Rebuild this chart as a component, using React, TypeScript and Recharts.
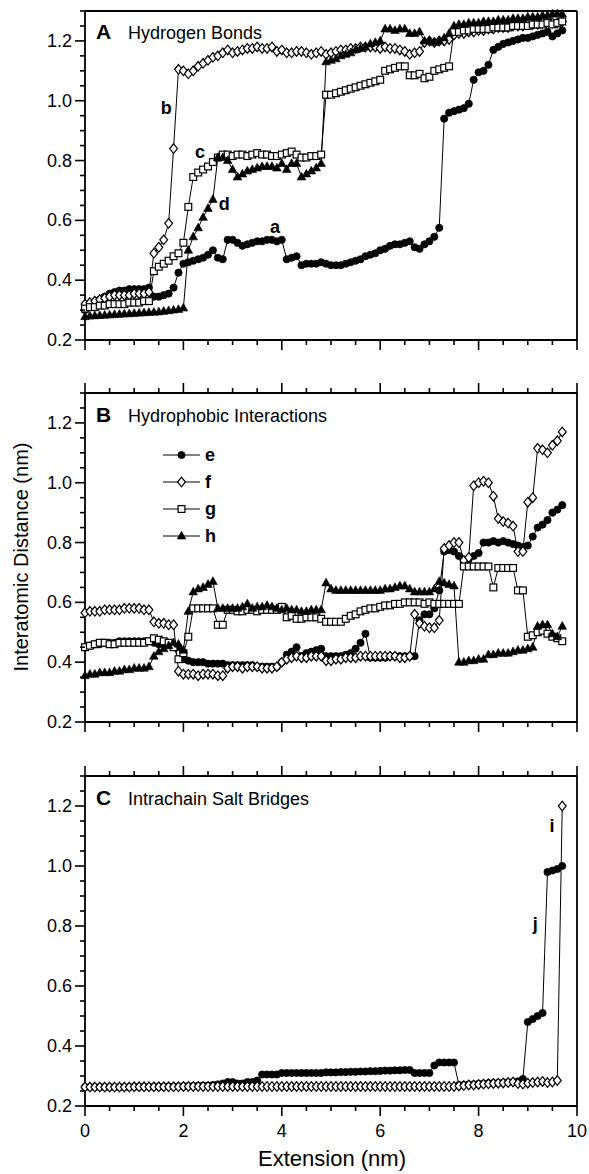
import React from 'react';
import { LineChart, Line, XAxis, YAxis, ReferenceDot, Legend } from 'recharts';

// extension (nm), one sample per 0.1 nm
const extension = [
  0, 0.1, 0.2, 0.3, 0.4, 0.5, 0.6, 0.7, 0.8, 0.9,
  1.0, 1.1, 1.2, 1.3, 1.4, 1.5, 1.6, 1.7, 1.8, 1.9,
  2.0, 2.1, 2.2, 2.3, 2.4, 2.5, 2.6, 2.7, 2.8, 2.9,
  3.0, 3.1, 3.2, 3.3, 3.4, 3.5, 3.6, 3.7, 3.8, 3.9,
  4.0, 4.1, 4.2, 4.3, 4.4, 4.5, 4.6, 4.7, 4.8, 4.9,
  5.0, 5.1, 5.2, 5.3, 5.4, 5.5, 5.6, 5.7, 5.8, 5.9,
  6.0, 6.1, 6.2, 6.3, 6.4, 6.5, 6.6, 6.7, 6.8, 6.9,
  7.0, 7.1, 7.2, 7.3, 7.4, 7.5, 7.6, 7.7, 7.8, 7.9,
  8.0, 8.1, 8.2, 8.3, 8.4, 8.5, 8.6, 8.7, 8.8, 8.9,
  9.0, 9.1, 9.2, 9.3, 9.4, 9.5, 9.6, 9.7,
];

// A - hydrogen bonds
const hbA = [
  0.30, 0.31, 0.32, 0.335, 0.345, 0.355, 0.36, 0.365, 0.365, 0.37,
  0.37, 0.37, 0.37, 0.375, 0.345, 0.345, 0.35, 0.355, 0.375, 0.425,
  0.455, 0.46, 0.465, 0.47, 0.475, 0.485, 0.50, 0.475, 0.47, 0.535,
  0.535, 0.525, 0.515, 0.52, 0.525, 0.53, 0.53, 0.535, 0.535, 0.53,
  0.535, 0.47, 0.475, 0.48, 0.45, 0.455, 0.455, 0.455, 0.46, 0.455,
  0.45, 0.45, 0.45, 0.455, 0.46, 0.465, 0.47, 0.48, 0.485, 0.49,
  0.50, 0.505, 0.515, 0.52, 0.52, 0.525, 0.53, 0.51, 0.505, 0.52,
  0.53, 0.545, 0.575, 0.94, 0.96, 0.965, 0.97, 0.975, 0.99, 1.07,
  1.095, 1.10, 1.12, 1.17, 1.18, 1.19, 1.195, 1.20, 1.205, 1.21,
  1.21, 1.215, 1.22, 1.225, 1.23, 1.215, 1.225, 1.235,
];
const hbB = [
  0.32, 0.325, 0.33, 0.335, 0.34, 0.345, 0.35, 0.35, 0.35, 0.35,
  0.355, 0.355, 0.355, 0.36, 0.49, 0.51, 0.535, 0.59, 0.84, 1.105,
  1.10, 1.09, 1.10, 1.115, 1.125, 1.135, 1.145, 1.15, 1.16, 1.17,
  1.16, 1.165, 1.17, 1.175, 1.175, 1.18, 1.175, 1.175, 1.18, 1.165,
  1.17, 1.16, 1.16, 1.165, 1.165, 1.16, 1.155, 1.16, 1.165, 1.155,
  1.16, 1.165, 1.17, 1.17, 1.175, 1.175, 1.18, 1.18, 1.18, 1.18,
  1.175, 1.18, 1.175, 1.175, 1.17, 1.165, 1.155, 1.16, 1.165, 1.195,
  1.20, 1.195, 1.20, 1.20, 1.205, 1.22, 1.225, 1.225, 1.23, 1.23,
  1.235, 1.235, 1.24, 1.24, 1.245, 1.245, 1.245, 1.25, 1.25, 1.25,
  1.255, 1.255, 1.255, 1.26, 1.255, 1.26, 1.26, 1.265,
];
const hbC = [
  0.305, 0.31, 0.31, 0.315, 0.315, 0.32, 0.32, 0.32, 0.32, 0.325,
  0.325, 0.325, 0.33, 0.33, 0.43, 0.445, 0.455, 0.465, 0.48, 0.49,
  0.525, 0.645, 0.745, 0.76, 0.77, 0.78, 0.795, 0.81, 0.82, 0.82,
  0.815, 0.82, 0.82, 0.815, 0.82, 0.825, 0.82, 0.82, 0.815, 0.815,
  0.82, 0.825, 0.83, 0.82, 0.81, 0.81, 0.815, 0.815, 0.82, 1.02,
  1.02, 1.025, 1.03, 1.035, 1.04, 1.045, 1.05, 1.055, 1.06, 1.065,
  1.07, 1.10, 1.105, 1.11, 1.115, 1.115, 1.085, 1.085, 1.09, 1.075,
  1.08, 1.10, 1.105, 1.11, 1.115, 1.23, 1.23, 1.235, 1.235, 1.24,
  1.24, 1.24, 1.24, 1.245, 1.245, 1.245, 1.245, 1.25, 1.25, 1.25,
  1.25, 1.255, 1.255, 1.255, 1.26, 1.255, 1.26, 1.265,
];
const hbD = [
  0.278, 0.28, 0.281, 0.282, 0.283, 0.284, 0.285, 0.286, 0.287, 0.288,
  0.289, 0.29, 0.291, 0.292, 0.293, 0.294, 0.296, 0.298, 0.30, 0.302,
  0.307, 0.50, 0.545, 0.575, 0.61, 0.64, 0.67, 0.81, 0.81, 0.80,
  0.77, 0.745, 0.755, 0.765, 0.77, 0.775, 0.78, 0.78, 0.78, 0.775,
  0.79, 0.77, 0.79, 0.79, 0.745, 0.755, 0.765, 0.775, 0.79, 1.13,
  1.135, 1.14, 1.15, 1.155, 1.16, 1.17, 1.175, 1.18, 1.19, 1.195,
  1.20, 1.24, 1.24, 1.235, 1.24, 1.24, 1.225, 1.225, 1.23, 1.20,
  1.20, 1.195, 1.20, 1.21, 1.225, 1.25, 1.255, 1.255, 1.26, 1.26,
  1.26, 1.265, 1.265, 1.265, 1.27, 1.27, 1.27, 1.275, 1.275, 1.275,
  1.28, 1.28, 1.28, 1.285, 1.285, 1.29, 1.29, 1.29,
];

// B - hydrophobic interactions
const hpE = [
  0.45, 0.455, 0.46, 0.46, 0.465, 0.465, 0.465, 0.47, 0.47, 0.47,
  0.47, 0.47, 0.47, 0.47, 0.465, 0.46, 0.46, 0.465, 0.455, 0.45,
  0.41, 0.405, 0.40, 0.40, 0.40, 0.395, 0.395, 0.395, 0.395, 0.39,
  0.39, 0.39, 0.39, 0.39, 0.39, 0.385, 0.385, 0.385, 0.385, 0.385,
  0.40, 0.425, 0.435, 0.45, 0.42, 0.43, 0.435, 0.44, 0.445, 0.42,
  0.42, 0.42, 0.42, 0.425, 0.43, 0.445, 0.465, 0.495, 0.415, 0.415,
  0.415, 0.415, 0.42, 0.42, 0.42, 0.42, 0.42, 0.42, 0.54, 0.56,
  0.56, 0.58, 0.64, 0.77, 0.775, 0.77, 0.755, 0.735, 0.745, 0.755,
  0.765, 0.80, 0.80, 0.805, 0.80, 0.805, 0.80, 0.795, 0.79, 0.785,
  0.79, 0.82, 0.85, 0.86, 0.875, 0.90, 0.91, 0.925,
];
const hpF = [
  0.565, 0.57, 0.57, 0.57, 0.575, 0.575, 0.575, 0.575, 0.58, 0.58,
  0.58, 0.58, 0.575, 0.575, 0.535, 0.53, 0.53, 0.525, 0.525, 0.37,
  0.36, 0.36, 0.36, 0.355, 0.36, 0.36, 0.36, 0.355, 0.355, 0.38,
  0.385, 0.385, 0.38, 0.385, 0.385, 0.385, 0.38, 0.38, 0.38, 0.385,
  0.40, 0.41, 0.415, 0.42, 0.415, 0.415, 0.42, 0.42, 0.42, 0.405,
  0.405, 0.41, 0.41, 0.415, 0.415, 0.415, 0.42, 0.42, 0.42, 0.42,
  0.42, 0.42, 0.42, 0.42, 0.415, 0.415, 0.42, 0.56, 0.53, 0.52,
  0.515, 0.515, 0.54, 0.78, 0.79, 0.80, 0.80, 0.74, 0.75, 0.99,
  1.0, 1.005, 1.0, 0.955, 0.88, 0.87, 0.865, 0.855, 0.77, 0.77,
  0.935, 0.95, 1.115, 1.11, 1.10, 1.125, 1.14, 1.17,
];
const hpG = [
  0.45, 0.455, 0.46, 0.465, 0.465, 0.46, 0.46, 0.465, 0.465, 0.465,
  0.465, 0.465, 0.465, 0.47, 0.48, 0.475, 0.47, 0.465, 0.45, 0.41,
  0.43, 0.485, 0.58, 0.58, 0.58, 0.58, 0.58, 0.525, 0.525, 0.575,
  0.575, 0.57, 0.57, 0.575, 0.575, 0.57, 0.575, 0.575, 0.575, 0.575,
  0.585, 0.55, 0.555, 0.545, 0.545, 0.55, 0.55, 0.55, 0.545, 0.535,
  0.535, 0.535, 0.535, 0.545, 0.555, 0.56, 0.57, 0.575, 0.58, 0.58,
  0.585, 0.59, 0.59, 0.595, 0.595, 0.60, 0.60, 0.60, 0.60, 0.595,
  0.60, 0.595, 0.595, 0.595, 0.595, 0.595, 0.595, 0.72, 0.72, 0.72,
  0.72, 0.72, 0.72, 0.65, 0.715, 0.715, 0.715, 0.715, 0.64, 0.64,
  0.485, 0.49, 0.50, 0.505, 0.495, 0.485, 0.48, 0.47,
];
const hpH = [
  0.355, 0.36, 0.36, 0.365, 0.365, 0.365, 0.37, 0.37, 0.375, 0.375,
  0.38, 0.38, 0.38, 0.385, 0.42, 0.435, 0.445, 0.455, 0.465, 0.46,
  0.44, 0.57, 0.635, 0.645, 0.65, 0.66, 0.67, 0.58, 0.58, 0.58,
  0.58, 0.58, 0.585, 0.595, 0.58, 0.585, 0.585, 0.59, 0.585, 0.58,
  0.575, 0.58, 0.575, 0.575, 0.57, 0.57, 0.575, 0.575, 0.575, 0.665,
  0.645, 0.64, 0.64, 0.64, 0.64, 0.64, 0.64, 0.64, 0.64, 0.64,
  0.64, 0.645, 0.645, 0.65, 0.655, 0.655, 0.645, 0.635, 0.635, 0.635,
  0.635, 0.645, 0.67, 0.665, 0.66, 0.655, 0.40, 0.40, 0.405, 0.405,
  0.41, 0.41, 0.425, 0.425, 0.43, 0.43, 0.43, 0.435, 0.44, 0.44,
  0.445, 0.45, 0.52, 0.525, 0.525, 0.495, 0.485, 0.52,
];

// C - intrachain salt bridges
const sbI = [
  0.263, 0.263, 0.263, 0.263, 0.263, 0.263, 0.263, 0.263, 0.263, 0.263,
  0.264, 0.264, 0.264, 0.264, 0.264, 0.264, 0.264, 0.264, 0.264, 0.264,
  0.265, 0.265, 0.265, 0.265, 0.265, 0.265, 0.265, 0.265, 0.265, 0.265,
  0.265, 0.265, 0.265, 0.265, 0.265, 0.265, 0.265, 0.265, 0.265, 0.265,
  0.265, 0.265, 0.265, 0.265, 0.265, 0.265, 0.265, 0.265, 0.265, 0.265,
  0.265, 0.265, 0.265, 0.265, 0.265, 0.265, 0.265, 0.265, 0.265, 0.265,
  0.265, 0.265, 0.265, 0.265, 0.265, 0.265, 0.265, 0.265, 0.265, 0.265,
  0.265, 0.265, 0.265, 0.265, 0.265, 0.265, 0.267, 0.268, 0.27, 0.27,
  0.272, 0.273, 0.274, 0.275, 0.276, 0.277, 0.278, 0.28, 0.275, 0.273,
  0.276, 0.278, 0.28, 0.282, 0.278, 0.28, 0.285, 1.2,
];
const sbJ = [
  0.263, 0.263, 0.263, 0.263, 0.263, 0.263, 0.263, 0.263, 0.263, 0.263,
  0.264, 0.264, 0.264, 0.264, 0.264, 0.264, 0.264, 0.265, 0.265, 0.265,
  0.266, 0.266, 0.267, 0.267, 0.268, 0.268, 0.27, 0.272, 0.275, 0.28,
  0.28, 0.275, 0.275, 0.28, 0.28, 0.285, 0.305, 0.305, 0.305, 0.305,
  0.31, 0.31, 0.31, 0.31, 0.31, 0.31, 0.31, 0.31, 0.31, 0.312,
  0.312, 0.312, 0.313, 0.313, 0.314, 0.314, 0.315, 0.315, 0.316, 0.316,
  0.317, 0.318, 0.318, 0.319, 0.319, 0.32, 0.32, 0.31, 0.31, 0.31,
  0.31, 0.335, 0.345, 0.345, 0.345, 0.345, 0.27, 0.27, 0.272, 0.272,
  0.274, 0.274, 0.276, 0.276, 0.277, 0.278, 0.279, 0.28, 0.282, 0.29,
  0.48, 0.49, 0.50, 0.51, 0.98, 0.985, 0.99, 1.0,
];

const xTicks = [0, 0.5, 1, 1.5, 2, 2.5, 3, 3.5, 4, 4.5, 5, 5.5, 6, 6.5, 7, 7.5, 8, 8.5, 9, 9.5, 10];
const yTicks = [
  0.2, 0.25, 0.3, 0.35, 0.4, 0.45, 0.5, 0.55, 0.6, 0.65, 0.7, 0.75,
  0.8, 0.85, 0.9, 0.95, 1.0, 1.05, 1.1, 1.15, 1.2, 1.25, 1.3,
];

const FONT = '"Liberation Sans", Arial, Helvetica, sans-serif';
const AXIS = { stroke: '#000', strokeWidth: 1.8 };

type Shape = 'circle' | 'diamond' | 'square' | 'triangle';

const isMajor = (v: number, step: number) => Math.abs(v / step - Math.round(v / step)) < 1e-6;

function marker(shape: Shape, cx: number, cy: number, key?: string) {
  switch (shape) {
    case 'circle':
      return <circle key={key} cx={cx} cy={cy} r={3.6} fill="#000" stroke="#000" strokeWidth={0.8} />;
    case 'diamond':
      return (
        <path key={key} d={`M${cx},${cy - 4.8}L${cx + 3.9},${cy}L${cx},${cy + 4.8}L${cx - 3.9},${cy}Z`}
          fill="#fff" stroke="#000" strokeWidth={1.2} />
      );
    case 'square':
      return <rect key={key} x={cx - 3.4} y={cy - 3.4} width={6.8} height={6.8} fill="#fff" stroke="#000" strokeWidth={1.2} />;
    default:
      return (
        <path key={key} d={`M${cx},${cy - 4.7}L${cx + 4.3},${cy + 3}L${cx - 4.3},${cy + 3}Z`}
          fill="#000" stroke="#000" strokeWidth={0.6} />
      );
  }
}

const makeDot = (shape: Shape) => (props: any) => {
  const { cx, cy, index } = props;
  const key = `${shape}-${index}`;
  if (cx == null || cy == null) return <g key={key} />;
  return marker(shape, cx, cy, key);
};

const LeftTick = (props: any) => {
  const { x, y, payload } = props;
  const major = isMajor(payload.value, 0.2);
  return (
    <g>
      <line x1={x - (major ? 10 : 5)} y1={y} x2={x} y2={y} stroke="#000" strokeWidth={1.6} />
      {major && (
        <text x={x - 13} y={y} textAnchor="end" dominantBaseline="central" fontSize={18} fontFamily={FONT} fill="#000">
          {payload.value.toFixed(1)}
        </text>
      )}
    </g>
  );
};

const makeBottomTick = (withLabels: boolean) => (props: any) => {
  const { x, y, payload } = props;
  const major = isMajor(payload.value, 2);
  return (
    <g>
      <line x1={x} y1={y} x2={x} y2={y + (major ? 10 : 5)} stroke="#000" strokeWidth={1.6} />
      {withLabels && major && (
        <text x={x} y={y + 25} textAnchor="middle" dominantBaseline="central" fontSize={18} fontFamily={FONT} fill="#000">
          {payload.value}
        </text>
      )}
    </g>
  );
};

const TopTick = (props: any) => {
  const { x, y, payload } = props;
  const major = isMajor(payload.value, 2);
  return <line x1={x} y1={y - (major ? 10 : 5)} x2={x} y2={y} stroke="#000" strokeWidth={1.6} />;
};

type Series = { key: string; name: string; values: number[]; shape: Shape };
type Note = { text: string; x: number; y: number };

const seriesA: Series[] = [
  { key: 'a', name: 'a', values: hbA, shape: 'circle' },
  { key: 'b', name: 'b', values: hbB, shape: 'diamond' },
  { key: 'c', name: 'c', values: hbC, shape: 'square' },
  { key: 'd', name: 'd', values: hbD, shape: 'triangle' },
];
const seriesB: Series[] = [
  { key: 'e', name: 'e', values: hpE, shape: 'circle' },
  { key: 'f', name: 'f', values: hpF, shape: 'diamond' },
  { key: 'g', name: 'g', values: hpG, shape: 'square' },
  { key: 'h', name: 'h', values: hpH, shape: 'triangle' },
];
const seriesC: Series[] = [
  { key: 'j', name: 'j', values: sbJ, shape: 'circle' },
  { key: 'i', name: 'i', values: sbI, shape: 'diamond' },
];

const notesA: Note[] = [
  { text: 'b', x: 1.65, y: 0.976 },
  { text: 'c', x: 2.34, y: 0.83 },
  { text: 'd', x: 2.83, y: 0.655 },
  { text: 'a', x: 3.86, y: 0.578 },
];
const notesC: Note[] = [
  { text: 'i', x: 9.49, y: 1.133 },
  { text: 'j', x: 9.15, y: 0.807 },
];

const toRows = (series: Series[]) =>
  extension.map((x, i) => {
    const row: Record<string, number> = { x };
    series.forEach((s) => (row[s.key] = s.values[i]));
    return row;
  });

const HydrophobicLegend = () => (
  <svg width={90} height={120} style={{ overflow: 'visible' }}>
    {seriesB.map((s, i) => (
      <g key={s.key} transform={`translate(0, ${10 + i * 27})`}>
        <line x1={0} y1={0} x2={37} y2={0} stroke="#000" strokeWidth={1} />
        {marker(s.shape, 18.5, 0)}
        <text x={42} y={0} dominantBaseline="central" fontSize={18} fontWeight="bold" fontFamily={FONT} fill="#000">
          {s.name}
        </text>
      </g>
    ))}
  </svg>
);

function Panel(props: {
  top: number;
  height: number;
  topHeight: number;
  bottomHeight: number;
  series: Series[];
  topTicks: boolean;
  labels: boolean;
  notes?: Note[];
  legend?: boolean;
}) {
  const data = toRows(props.series);
  return (
    <div style={{ position: 'absolute', left: 0, top: props.top }}>
      <LineChart width={589} height={props.height} data={data} margin={{ top: 0, right: 0, bottom: 0, left: 0 }}>
        <XAxis xAxisId="t" orientation="top" type="number" dataKey="x" domain={[0, 10]} ticks={xTicks} interval={0}
          height={props.topHeight} tickSize={0} tickMargin={0} tickLine={false}
          tick={props.topTicks ? TopTick : false} axisLine={AXIS} />
        <XAxis xAxisId="b" orientation="bottom" type="number" dataKey="x" domain={[0, 10]} ticks={xTicks} interval={0}
          height={props.bottomHeight} tickSize={0} tickMargin={0} tickLine={false}
          tick={makeBottomTick(props.labels)} axisLine={AXIS} />
        <YAxis yAxisId="l" orientation="left" type="number" domain={[0.2, 1.3]} ticks={yTicks} interval={0}
          width={85} tickSize={0} tickMargin={0} tickLine={false} tick={LeftTick} axisLine={AXIS} />
        <YAxis yAxisId="r" orientation="right" type="number" domain={[0.2, 1.3]} width={12}
          tick={false} tickLine={false} axisLine={AXIS} />
        {props.series.map((s) => (
          <Line key={s.key} xAxisId="b" yAxisId="l" type="linear" dataKey={s.key} name={s.name}
            stroke="#000" strokeWidth={1} dot={makeDot(s.shape)} activeDot={false} isAnimationActive={false} />
        ))}
        {(props.notes || []).map((n) => (
          <ReferenceDot key={n.text} xAxisId="b" yAxisId="l" x={n.x} y={n.y} r={0} fill="none" stroke="none"
            label={{ value: n.text, position: 'center', fontSize: 18, fontWeight: 'bold', fill: '#000', fontFamily: FONT }} />
        ))}
        {props.legend && (
          <Legend layout="vertical" align="center" verticalAlign="middle" content={<HydrophobicLegend />}
            wrapperStyle={{ left: 163, top: 72, width: 90, height: 120, lineHeight: 0 }} />
        )}
      </LineChart>
    </div>
  );
}

const panelTitles = [
  { letter: 'A', title: 'Hydrogen Bonds', y: 39 },
  { letter: 'B', title: 'Hydrophobic Interactions', y: 422 },
  { letter: 'C', title: 'Intrachain Salt Bridges', y: 805 },
];

export default function App() {
  return (
    <div style={{ position: 'absolute', left: 0, top: 0, width: 589, height: 1174, background: '#fff' }}>
      <Panel top={0} height={370} topHeight={11} bottomHeight={30} series={seriesA} topTicks={false} labels={false} notes={notesA} />
      <Panel top={373} height={379} topHeight={20} bottomHeight={30} series={seriesB} topTicks labels={false} legend />
      <Panel top={756} height={418} topHeight={20} bottomHeight={68} series={seriesC} topTicks labels notes={notesC} />
      <svg width={589} height={1174} style={{ position: 'absolute', left: 0, top: 0, pointerEvents: 'none' }}>
        {panelTitles.map((p) => (
          <g key={p.letter}>
            <text x={96} y={p.y} fontSize={21} fontWeight="bold" fontFamily={FONT} fill="#000">{p.letter}</text>
            <text x={128} y={p.y} fontSize={18} fontFamily={FONT} fill="#000">{p.title}</text>
          </g>
        ))}
        <text x={21} y={557} transform="rotate(-90 21 557)" textAnchor="middle" dominantBaseline="central"
          fontSize={20} fontFamily={FONT} fill="#000">
          Interatomic Distance (nm)
        </text>
        <text x={332} y={1158} textAnchor="middle" dominantBaseline="central" fontSize={22} fontFamily={FONT} fill="#000">
          Extension (nm)
        </text>
      </svg>
    </div>
  );
}
